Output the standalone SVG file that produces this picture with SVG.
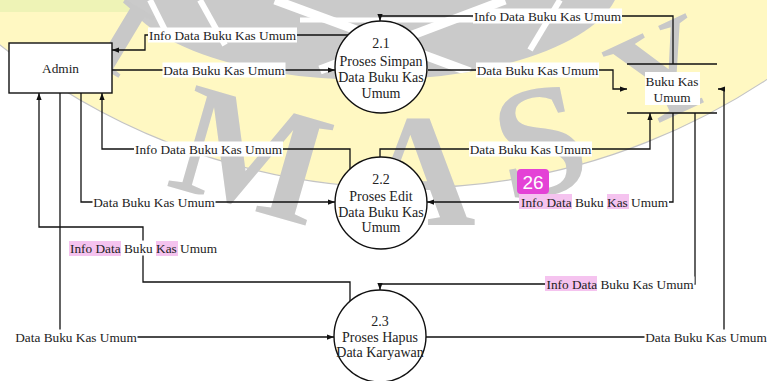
<svg xmlns="http://www.w3.org/2000/svg" width="767" height="381" viewBox="0 0 767 381">
<defs>
<marker id="arr" viewBox="0 0 8 6" refX="8" refY="3" markerWidth="7" markerHeight="5.5" orient="auto" markerUnits="userSpaceOnUse"><path d="M0,0 L8,3 L0,6 z" fill="#111"/></marker>
<clipPath id="clipGrey"><ellipse cx="370" cy="-20" rx="250" ry="100"/></clipPath>
</defs>
<style>
.ln{fill:none;stroke:#111;stroke-width:1.3}
.lb{font-family:"Liberation Serif","Times New Roman",serif;font-size:13.3px;fill:#222;text-anchor:middle}
.bg{fill:#fff}
.hl{fill:#f5c3ef}
.nd{fill:#fff;stroke:#111;stroke-width:1.4}
.st{fill:none;stroke:#111;stroke-width:1.4}
.nt{font-family:"Liberation Serif","Times New Roman",serif;font-size:14px;fill:#222;text-anchor:middle}
.wm{font-family:"Liberation Serif","Times New Roman",serif;font-size:160px;font-weight:bold;fill:#c8c8c8;text-anchor:middle}
.ray{stroke:#fff;fill:none}
</style>
<rect width="767" height="381" fill="#fff"/>
<g id="watermark">
<circle cx="407" cy="-462" r="650" fill="#fff8c2" stroke="#c4c4c4" stroke-width="1.2"/>
<rect x="0" y="0" width="160" height="12" fill="#eef3b6"/>
<ellipse cx="370" cy="-20" rx="250" ry="100" fill="#cacaca"/>
<g clip-path="url(#clipGrey)">
<line class="ray" x1="275" y1="0" x2="470" y2="72" stroke-width="9"/>
<line class="ray" x1="320" y1="70" x2="505" y2="0" stroke-width="9"/>
<line class="ray" x1="200" y1="0" x2="225" y2="45" stroke-width="6"/>
<line class="ray" x1="150" y1="0" x2="170" y2="40" stroke-width="6"/>
<line class="ray" x1="560" y1="0" x2="530" y2="50" stroke-width="6"/>
<line class="ray" x1="300" y1="20" x2="600" y2="20" stroke-width="5"/>
</g>
<text class="wm" transform="translate(122,38) rotate(31)" x="0" y="36" style="font-size:108px">I</text>
<text class="wm" transform="translate(252,155) rotate(16)" x="0" y="53">M</text>
<text class="wm" transform="translate(418,172) rotate(0)" x="0" y="53">A</text>
<text class="wm" transform="translate(540,142) rotate(-12)" x="0" y="53">S</text>
<text class="wm" transform="translate(662,72) rotate(-25)" x="0" y="45" style="font-size:135px">Y</text>
</g>
<g id="connectors">
<path class="ln" d="M112,70 L335,70" marker-end="url(#arr)"/>
<path class="ln" d="M348,35 L145,35 L145,50 L112,50" marker-end="url(#arr)"/>
<path class="ln" d="M428,70 L613,70 L613,89 L627,89" marker-end="url(#arr)"/>
<path class="ln" d="M673,64 L673,16 L380,16 L380,21" marker-end="url(#arr)"/>
<path class="ln" d="M350,169 L350,149 L102,149 L102,93" marker-end="url(#arr)"/>
<path class="ln" d="M81,93 L81,202 L335,202" marker-end="url(#arr)"/>
<path class="ln" d="M380,157 L380,149 L650,149 L650,113" marker-end="url(#arr)"/>
<path class="ln" d="M673,113 L673,202 L427,202" marker-end="url(#arr)"/>
<path class="ln" d="M350,301 L350,282 L143,282 L143,227 L39,227 L39,93" marker-end="url(#arr)"/>
<path class="ln" d="M60,93 L60,337 L334,337" marker-end="url(#arr)"/>
<path class="ln" d="M695,113 L695,284 L380,284 L380,290" marker-end="url(#arr)"/>
<path class="ln" d="M426,337 L724,337 L724,89 L718,89" marker-end="url(#arr)"/>
</g>
<g id="admin">
<rect class="nd" x="9" y="43" width="103" height="50"/>
<text class="nt" x="60.5" y="73" style="font-size:13.3px">Admin</text>
</g>
<g id="p21">
<circle class="nd" cx="381" cy="67" r="46"/>
<text class="nt" x="381" y="48">2.1</text>
<text class="nt" x="381" y="66">Proses Simpan</text>
<text class="nt" x="381" y="82">Data Buku Kas</text>
<text class="nt" x="381" y="98">Umum</text>
</g>
<g id="p22">
<circle class="nd" cx="381" cy="203" r="46"/>
<text class="nt" x="381" y="184">2.2</text>
<text class="nt" x="381" y="201">Proses Edit</text>
<text class="nt" x="381" y="217">Data Buku Kas</text>
<text class="nt" x="381" y="232">Umum</text>
</g>
<g id="p23">
<circle class="nd" cx="380" cy="336" r="46"/>
<text class="nt" x="380" y="326">2.3</text>
<text class="nt" x="380" y="342">Proses Hapus</text>
<text class="nt" x="380" y="357">Data Karyawan</text>
</g>
<g id="store">
<rect class="bg" x="645" y="72" width="55" height="33"/>
<line class="st" x1="627" y1="64" x2="717" y2="64"/>
<line class="st" x1="627" y1="113" x2="717" y2="113"/>
<text class="lb" x="672" y="86">Buku Kas</text>
<text class="lb" x="672" y="102">Umum</text>
</g>
<g id="labels">
<rect class="bg" x="162.5" y="62.5" width="123" height="15"/>
<text class="lb" x="224" y="74.5">Data Buku Kas Umum</text>
<rect class="bg" x="148" y="27.5" width="149" height="15"/>
<text class="lb" x="222.5" y="39.5">Info Data Buku Kas Umum</text>
<rect class="bg" x="476" y="62.5" width="123" height="15"/>
<text class="lb" x="537.5" y="74.5">Data Buku Kas Umum</text>
<rect class="bg" x="473" y="8.5" width="149" height="15"/>
<text class="lb" x="547.5" y="20.5">Info Data Buku Kas Umum</text>
<rect class="bg" x="134" y="141.5" width="149" height="15"/>
<text class="lb" x="208.5" y="153.5">Info Data Buku Kas Umum</text>
<rect class="bg" x="92.5" y="194.5" width="123" height="15"/>
<text class="lb" x="154" y="206.5">Data Buku Kas Umum</text>
<rect class="bg" x="469" y="141.5" width="123" height="15"/>
<text class="lb" x="530.5" y="153.5">Data Buku Kas Umum</text>
<rect class="bg" x="520" y="194.5" width="149" height="15"/>
<rect class="hl" x="519" y="194" width="53" height="15"/>
<rect class="hl" x="607" y="194" width="22" height="15"/>
<text class="lb" x="594.5" y="206.5">Info Data Buku Kas Umum</text>
<rect class="bg" x="69" y="240.5" width="149" height="15"/>
<rect class="hl" x="69" y="241" width="52" height="15"/>
<rect class="hl" x="156" y="241" width="22" height="15"/>
<text class="lb" x="143.5" y="252.5">Info Data Buku Kas Umum</text>
<rect class="bg" x="14.5" y="329.5" width="123" height="15"/>
<text class="lb" x="76" y="341.5">Data Buku Kas Umum</text>
<rect class="bg" x="545.5" y="276.5" width="149" height="15"/>
<rect class="hl" x="545" y="276" width="52" height="15"/>
<text class="lb" x="620" y="288.5">Info Data Buku Kas Umum</text>
<rect class="bg" x="644.5" y="329.5" width="123" height="15"/>
<text class="lb" x="706" y="341.5">Data Buku Kas Umum</text>
</g>
<g id="badge">
<rect x="517" y="169" width="32" height="25" rx="4" fill="#e442d6"/>
<text x="533" y="188.5" font-family="Liberation Sans, Arial, sans-serif" font-size="19" fill="#fff" text-anchor="middle">26</text>
</g>
</svg>
